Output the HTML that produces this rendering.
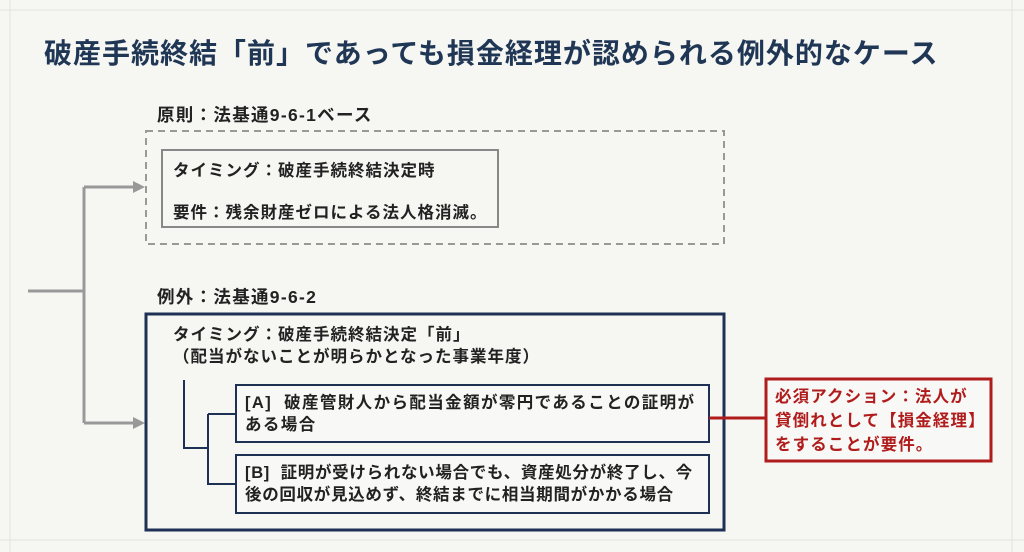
<!DOCTYPE html>
<html><head><meta charset="utf-8"><style>
body{margin:0;width:1024px;height:552px;overflow:hidden;background:#f6f6f3;font-family:"Liberation Sans","Noto Sans CJK JP",sans-serif;position:relative;color:#222}
.a{position:absolute;white-space:nowrap}
.b{font-weight:bold}
.t{font-size:16.5px;letter-spacing:1px}
</style></head><body>
<svg class="a" style="left:0;top:0" width="1024" height="552">
<g stroke="#e2e2df" stroke-width="1">
<line x1="10" y1="0" x2="10" y2="552"/><line x1="1012" y1="0" x2="1012" y2="552"/>
<line x1="0" y1="10" x2="1024" y2="10"/><line x1="0" y1="540" x2="1024" y2="540"/>
</g>
<rect x="146" y="131" width="578" height="113" fill="none" stroke="#999" stroke-width="2" stroke-dasharray="7,5"/>
<rect x="162" y="150" width="336" height="77" fill="none" stroke="#888" stroke-width="2"/>
<g stroke="#999" stroke-width="3" fill="none">
<line x1="28" y1="291" x2="84" y2="291"/>
<line x1="84" y1="187" x2="84" y2="423"/>
<line x1="84" y1="187" x2="134" y2="187"/>
<line x1="84" y1="423" x2="134" y2="423"/>
</g>
<polygon points="133,181 145,187 133,193" fill="#999"/>
<polygon points="133,417 145,423 133,429" fill="#999"/>
<rect x="146" y="314" width="578" height="216" fill="none" stroke="#1f3055" stroke-width="3"/>
<g stroke="#1f3055" stroke-width="2" fill="none">
<polyline points="184,380 184,448 208,448"/>
<polyline points="208,414 208,484 236,484"/>
<line x1="208" y1="414" x2="236" y2="414"/>
</g>
<rect x="236" y="385" width="473" height="57" fill="#f8f8f6" stroke="#1f3055" stroke-width="2"/>
<rect x="236" y="455" width="473" height="58" fill="#f8f8f6" stroke="#1f3055" stroke-width="2"/>
<line x1="709" y1="418" x2="766" y2="418" stroke="#b01c1c" stroke-width="3"/>
<rect x="766" y="379" width="225" height="82" fill="#f8f8f6" stroke="#b01c1c" stroke-width="3"/>
</svg>
<div class="a b" style="left:44px;top:32px;font-size:28px;letter-spacing:1px;color:#1f3655">破産手続終結「前」であっても損金経理が認められる例外的なケース</div>
<div class="a b" style="left:157px;top:102px;font-size:17.5px;letter-spacing:1.3px">原則：法基通9-6-1ベース</div>
<div class="a b t" style="left:173px;top:157px">タイミング：破産手続終結決定時</div>
<div class="a b t" style="left:173px;top:199px">要件：残余財産ゼロによる法人格消滅。</div>
<div class="a b" style="left:157px;top:284px;font-size:17.5px;letter-spacing:1.3px">例外：法基通9-6-2</div>
<div class="a b t" style="left:173px;top:324px;line-height:22px">タイミング：破産手続終結決定「前」<br>（配当がないことが明らかとなった事業年度）</div>
<div class="a b t" style="left:245px;top:392px;line-height:22px;letter-spacing:1.4px">[A]&nbsp; 破産管財人から配当金額が零円であることの証明が<br>ある場合</div>
<div class="a b t" style="left:245px;top:462px;line-height:22px;letter-spacing:0.7px">[B]&nbsp; 証明が受けられない場合でも、資産処分が終了し、今<br>後の回収が見込めず、終結までに相当期間がかかる場合</div>
<div class="a b" style="left:775px;top:385px;font-size:16.5px;letter-spacing:1.1px;line-height:24px;color:#b01c1c">必須アクション：法人が<br>貸倒れとして【損金経理】<br>をすることが要件。</div>
</body></html>
